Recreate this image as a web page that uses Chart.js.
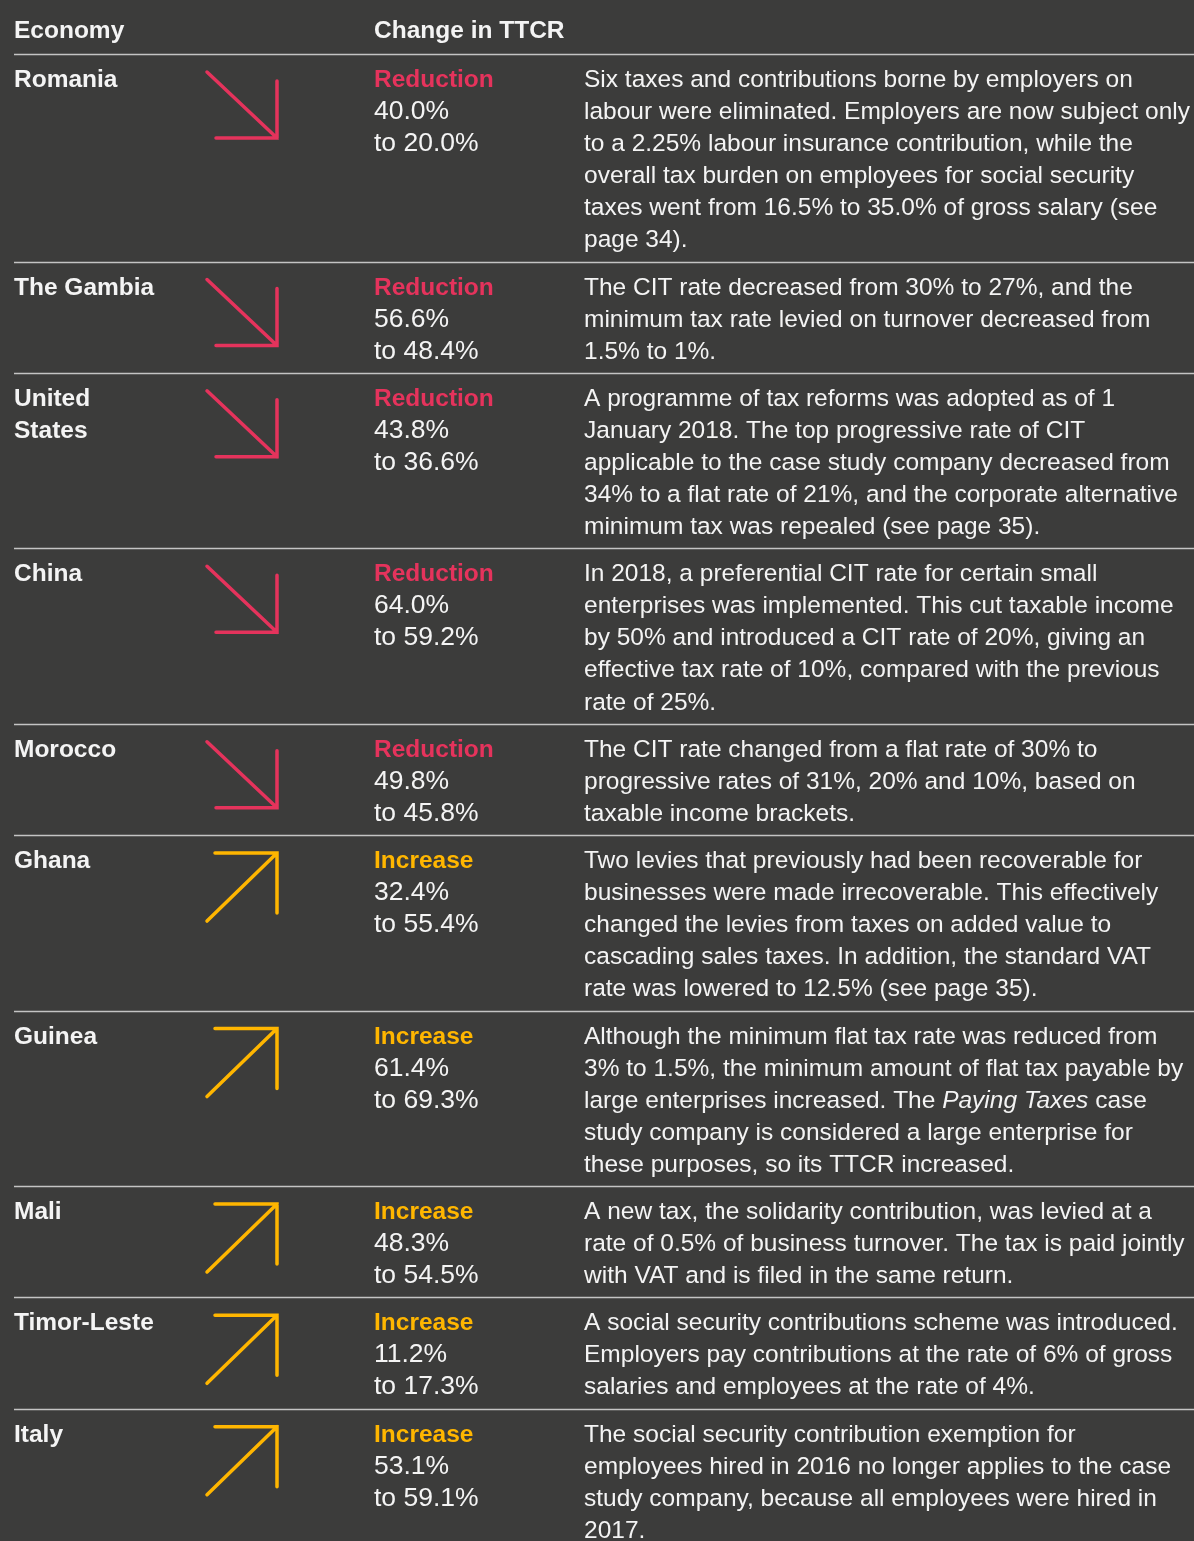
<!DOCTYPE html>
<html>
<head>
<meta charset="utf-8">
<script src="https://cdn.jsdelivr.net/npm/chart.js@4/dist/chart.umd.min.js"></script>
<style>
html, body { margin: 0; padding: 0; background: #3c3c3b; }
canvas { display: block; }
</style>
</head>
<body>
<canvas id="ttcr" width="1194" height="1541"></canvas>
<script>
// Data
const headers = ["Economy", "Change in TTCR"];
const economies = [["Romania"], ["The Gambia"], ["United", "States"], ["China"], ["Morocco"],
    ["Ghana"], ["Guinea"], ["Mali"], ["Timor-Leste"], ["Italy"]];
const fromRates = [40.0, 56.6, 43.8, 64.0, 49.8, 32.4, 61.4, 48.3, 11.2, 53.1];
const toRates = [20.0, 48.4, 36.6, 59.2, 45.8, 55.4, 69.3, 54.5, 17.3, 59.1];
const descriptions = [
    ["Six taxes and contributions borne by employers on",
     "labour were eliminated. Employers are now subject only",
     "to a 2.25% labour insurance contribution, while the",
     "overall tax burden on employees for social security",
     "taxes went from 16.5% to 35.0% of gross salary (see",
     "page 34)."],
    ["The CIT rate decreased from 30% to 27%, and the",
     "minimum tax rate levied on turnover decreased from",
     "1.5% to 1%."],
    ["A programme of tax reforms was adopted as of 1",
     "January 2018. The top progressive rate of CIT",
     "applicable to the case study company decreased from",
     "34% to a flat rate of 21%, and the corporate alternative",
     "minimum tax was repealed (see page 35)."],
    ["In 2018, a preferential CIT rate for certain small",
     "enterprises was implemented. This cut taxable income",
     "by 50% and introduced a CIT rate of 20%, giving an",
     "effective tax rate of 10%, compared with the previous",
     "rate of 25%."],
    ["The CIT rate changed from a flat rate of 30% to",
     "progressive rates of 31%, 20% and 10%, based on",
     "taxable income brackets."],
    ["Two levies that previously had been recoverable for",
     "businesses were made irrecoverable. This effectively",
     "changed the levies from taxes on added value to",
     "cascading sales taxes. In addition, the standard VAT",
     "rate was lowered to 12.5% (see page 35)."],
    ["Although the minimum flat tax rate was reduced from",
     "3% to 1.5%, the minimum amount of flat tax payable by",
     "large enterprises increased. The *Paying Taxes* case",
     "study company is considered a large enterprise for",
     "these purposes, so its TTCR increased."],
    ["A new tax, the solidarity contribution, was levied at a",
     "rate of 0.5% of business turnover. The tax is paid jointly",
     "with VAT and is filed in the same return."],
    ["A social security contributions scheme was introduced.",
     "Employers pay contributions at the rate of 6% of gross",
     "salaries and employees at the rate of 4%."],
    ["The social security contribution exemption for",
     "employees hired in 2016 no longer applies to the case",
     "study company, because all employees were hired in",
     "2017."]
];

// Estilo / layout
const BG = "#3c3c3b";
const PINK = "#e5335c";
const YELLOW = "#ffb600";
const TEXT = "#f4f4f4";
const RULE = "#c4c4c4";
const FONT = "'Liberation Sans', Arial, sans-serif";
const W = 1194, H = 1541;
const LINE_H = 32.05;
const HEAD_RULE = 54;
const COL_ECON = 14, COL_ARROW = 207, COL_VAL = 374, COL_DESC = 584;
const TXT_SIZE = 24.5, VAL_SIZE = 26.5;

// posição de cada linha da tabela
const rowTops = [];
let y = HEAD_RULE;
descriptions.forEach(d => {
    rowTops.push(y);
    y += LINE_H * Math.max(d.length, 3) + 15.2;
});

// seta: queda ou subida, a partir dos valores
function arrowPoints(i) {
    const s = rowTops[i];
    const gap = { x: null, y: null };
    if (toRates[i] < fromRates[i]) {
        return [{ x: COL_ARROW, y: s + 18 }, { x: COL_ARROW + 70, y: s + 84 }, gap,
                { x: COL_ARROW + 70, y: s + 27 }, { x: COL_ARROW + 70, y: s + 84 }, { x: COL_ARROW + 9, y: s + 84 }];
    }
    return [{ x: COL_ARROW, y: s + 86 }, { x: COL_ARROW + 70, y: s + 18 }, gap,
            { x: COL_ARROW + 8, y: s + 18 }, { x: COL_ARROW + 70, y: s + 18 }, { x: COL_ARROW + 70, y: s + 78 }];
}

const tablePlugin = {
    id: "tableText",
    beforeDatasetsDraw(chart) {
        const ctx = chart.ctx;
        const sx = chart.scales.x, sy = chart.scales.y;
        ctx.save();
        ctx.strokeStyle = RULE;
        ctx.lineWidth = 1.3;
        [HEAD_RULE].concat(rowTops.slice(1)).forEach(t => {
            const py = Math.round(sy.getPixelForValue(t)) + 0.5;
            ctx.beginPath();
            ctx.moveTo(sx.getPixelForValue(COL_ECON), py);
            ctx.lineTo(sx.getPixelForValue(W), py);
            ctx.stroke();
        });
        ctx.restore();
    },
    afterDatasetsDraw(chart) {
        const ctx = chart.ctx;
        const sx = chart.scales.x, sy = chart.scales.y;
        ctx.save();
        ctx.textBaseline = "alphabetic";
        ctx.fillStyle = TEXT;
        ctx.font = "bold " + TXT_SIZE + "px " + FONT;
        ctx.fillText(headers[0], sx.getPixelForValue(COL_ECON), sy.getPixelForValue(38));
        ctx.fillText(headers[1], sx.getPixelForValue(COL_VAL), sy.getPixelForValue(38));

        rowTops.forEach((t, i) => {
            const base = t + 33;
            const up = toRates[i] > fromRates[i];
            ctx.font = "bold " + TXT_SIZE + "px " + FONT;
            ctx.fillStyle = TEXT;
            economies[i].forEach((n, k) => {
                ctx.fillText(n, sx.getPixelForValue(COL_ECON), sy.getPixelForValue(base + k * LINE_H));
            });
            ctx.fillStyle = up ? YELLOW : PINK;
            ctx.fillText(up ? "Increase" : "Reduction", sx.getPixelForValue(COL_VAL), sy.getPixelForValue(base));
            ctx.font = VAL_SIZE + "px " + FONT;
            ctx.fillStyle = TEXT;
            ctx.fillText(fromRates[i].toFixed(1) + "%", sx.getPixelForValue(COL_VAL), sy.getPixelForValue(base + LINE_H));
            ctx.fillText("to " + toRates[i].toFixed(1) + "%", sx.getPixelForValue(COL_VAL), sy.getPixelForValue(base + 2 * LINE_H));

            descriptions[i].forEach((line, k) => {
                let px = sx.getPixelForValue(COL_DESC);
                const py = sy.getPixelForValue(base + k * LINE_H);
                line.split("*").forEach((part, j) => {
                    ctx.font = (j % 2 ? "italic " : "") + TXT_SIZE + "px " + FONT;
                    ctx.fillText(part, px, py);
                    px += ctx.measureText(part).width;
                });
            });
        });
        ctx.restore();
    }
};

new Chart(document.getElementById("ttcr"), {
    type: "scatter",
    data: {
        datasets: economies.map((e, i) => ({
            label: e.join(" "),
            data: arrowPoints(i),
            showLine: true,
            spanGaps: false,
            borderColor: toRates[i] > fromRates[i] ? YELLOW : PINK,
            borderWidth: 3.5,
            borderCapStyle: "round",
            pointRadius: 0,
            pointHoverRadius: 0
        }))
    },
    options: {
        responsive: false,
        animation: false,
        layout: { padding: 0 },
        plugins: { legend: { display: false }, tooltip: { enabled: false } },
        events: [],
        scales: {
            x: { type: "linear", min: 0, max: W, display: false },
            y: { type: "linear", min: 0, max: H, reverse: true, display: false }
        }
    },
    plugins: [tablePlugin]
});
</script>
</body>
</html>
